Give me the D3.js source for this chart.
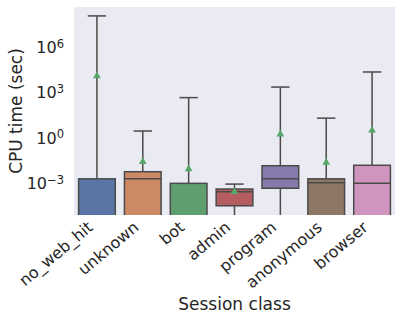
<!DOCTYPE html>
<html>
<head>
<meta charset="utf-8">
<script src="https://cdn.jsdelivr.net/npm/d3@7"></script>
<style>
  html, body { margin: 0; padding: 0; background: #ffffff; }
  svg { display: block; }
  text { font-family: "DejaVu Sans", sans-serif; fill: #262626; }
</style>
</head>
<body>
<svg id="chart" width="402" height="323"></svg>
<script>
// ---- data (0 = value at/under the visible range, drawn to the bottom edge) ----
const categories = ["no_web_hit", "unknown", "bot", "admin", "program", "anonymous", "browser"];
const whiskerHigh = [1.2e8, 2.8, 460, 8.5e-4, 2300, 20, 23000];
const q3Values    = [1.9e-3, 5.6e-3, 9.5e-4, 4.0e-4, 1.4e-2, 1.9e-3, 1.5e-2];
const medianValues= [0, 1.9e-3, 0, 2.6e-4, 1.9e-3, 1.05e-3, 9.5e-4];
const q1Values    = [0, 0, 0, 3.1e-5, 4.5e-4, 0, 0];
const whiskerLow  = [0, 0, 0, 0, 0, 0, 0];
const meanValues  = [1.25e4, 0.026, 8.5e-3, 2.6e-4, 1.7, 0.023, 3.1];
const yTickValues = [1e-3, 1e0, 1e3, 1e6];
const yTickExps   = ["\u22123", "0", "3", "6"];
const colors = ["#5975a4", "#cc8963", "#5f9e6e", "#b55d60", "#857aab", "#8d7866", "#d095bf"];

const svg = d3.select("#chart");
const plot = { left: 74, right: 395, top: 7, bottom: 215 };

const x = d3.scaleBand().domain(categories).range([plot.left, plot.right]).paddingInner(0).paddingOuter(0);
const y = d3.scaleLog().domain([Math.pow(10, -5.12), Math.pow(10, 8.67)]).range([plot.bottom, plot.top]);
const yv = v => (v > 0 ? y(v) : plot.bottom + 20);

svg.append("defs").append("clipPath").attr("id", "clip")
  .append("rect").attr("x", plot.left).attr("y", plot.top)
  .attr("width", plot.right - plot.left).attr("height", plot.bottom - plot.top);

svg.append("rect").attr("x", plot.left).attr("y", plot.top)
  .attr("width", plot.right - plot.left).attr("height", plot.bottom - plot.top)
  .attr("fill", "#eaeaf2");

const g = svg.append("g").attr("clip-path", "url(#clip)");
const lineColor = "#4a4a4a";
const bw = x.bandwidth() * 0.8;

categories.forEach((c, i) => {
  const cx = x(c) + x.bandwidth() / 2;
  // whiskers
  g.append("line").attr("x1", cx).attr("x2", cx)
    .attr("y1", yv(q3Values[i])).attr("y2", yv(whiskerHigh[i]))
    .attr("stroke", lineColor).attr("stroke-width", 1.5);
  g.append("line").attr("x1", cx).attr("x2", cx)
    .attr("y1", yv(q1Values[i])).attr("y2", yv(whiskerLow[i]))
    .attr("stroke", lineColor).attr("stroke-width", 1.5);
  // caps
  g.append("line").attr("x1", cx - bw / 4).attr("x2", cx + bw / 4)
    .attr("y1", yv(whiskerHigh[i])).attr("y2", yv(whiskerHigh[i]))
    .attr("stroke", lineColor).attr("stroke-width", 1.5);
  // box
  const top = yv(q3Values[i]), bot = yv(q1Values[i]);
  g.append("rect").attr("x", cx - bw / 2).attr("width", bw)
    .attr("y", top).attr("height", bot - top)
    .attr("fill", colors[i]).attr("stroke", lineColor).attr("stroke-width", 1.5);
  // median
  g.append("line").attr("x1", cx - bw / 2).attr("x2", cx + bw / 2)
    .attr("y1", yv(medianValues[i])).attr("y2", yv(medianValues[i]))
    .attr("stroke", lineColor).attr("stroke-width", 1.5);
  // mean marker
  g.append("path")
    .attr("d", d3.symbol().type(d3.symbolTriangle).size(26)())
    .attr("transform", `translate(${cx},${yv(meanValues[i])})`)
    .attr("fill", "#55a868");
});

// y tick labels
const yt = svg.append("g");
yTickValues.forEach((v, i) => {
  const t = yt.append("text").attr("x", 64).attr("y", y(v)).attr("dy", "0.36em")
    .attr("text-anchor", "end").style("font-size", "16px");
  t.append("tspan").text("10");
  t.append("tspan").attr("dy", "-0.45em").style("font-size", "11.5px").text(yTickExps[i]);
});

// x tick labels
categories.forEach(c => {
  const cx = x(c) + x.bandwidth() / 2;
  svg.append("text")
    .attr("transform", `translate(${cx - 3},${229}) rotate(-40)`)
    .attr("text-anchor", "end").style("font-size", "16px").text(c);
});

// axis titles
svg.append("text").attr("transform", "translate(21.5,111) rotate(-90)")
  .attr("text-anchor", "middle").style("font-size", "17px").text("CPU time (sec)");
svg.append("text").attr("x", (plot.left + plot.right) / 2).attr("y", 310)
  .attr("text-anchor", "middle").style("font-size", "17px").text("Session class");
</script>
</body>
</html>
